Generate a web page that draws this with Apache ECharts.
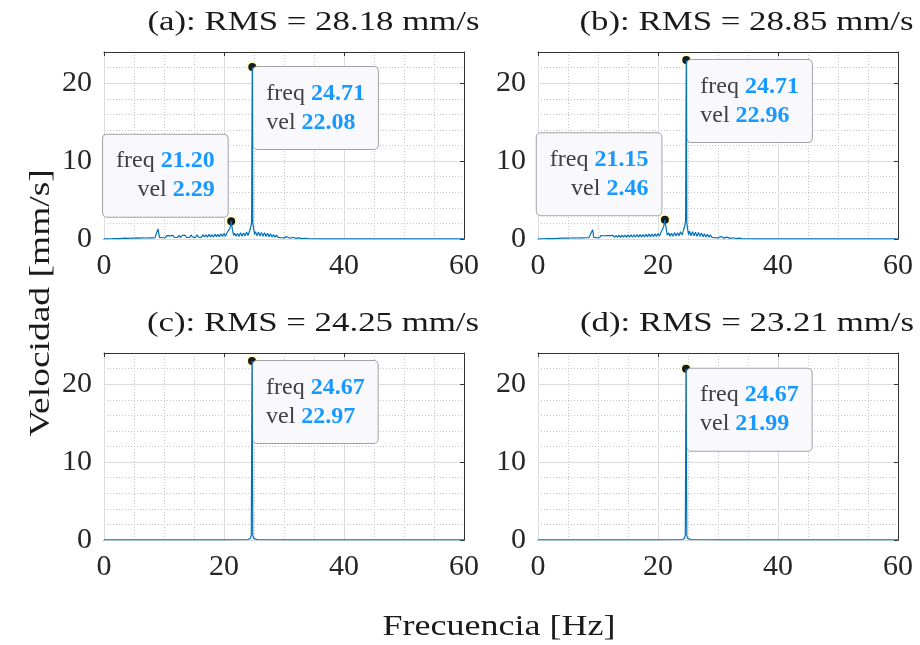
<!DOCTYPE html>
<html>
<head>
<meta charset="utf-8">
<script src="https://cdn.jsdelivr.net/npm/echarts@6/dist/echarts.min.js"></script>
<style>
  html, body { margin: 0; padding: 0; background: #fff; }
  #chart { width: 920px; height: 645px; }
</style>
</head>
<body>
<div id="chart"></div>
<script>
// spectra: [frequency Hz, velocity mm/s]
const specA = [
  [0, 0.02], [0.5, 0.02], [1, 0.03], [1.5, 0.04], [2, 0.06], [2.25, 0.12], [2.5, 0.05], [2.75, 0.15],
  [3, 0.08], [3.25, 0.2], [3.5, 0.1], [3.75, 0.22], [4, 0.09], [4.25, 0.25], [4.5, 0.12], [4.75, 0.28],
  [5, 0.1], [5.25, 0.3], [5.5, 0.14], [5.75, 0.26], [6, 0.12], [6.25, 0.33], [6.5, 0.15], [6.75, 0.3],
  [7, 0.13], [7.25, 0.36], [7.5, 0.16], [7.75, 0.32], [8, 0.14], [8.25, 0.38], [8.5, 0.17], [8.75, 0.4],
  [9, 1.3], [9.25, 0.2], [9.5, 0.42], [9.75, 0.16], [10, 0.38], [10.25, 0.18], [10.5, 0.44], [10.75, 0.2],
  [11, 0.4], [11.25, 0.15], [11.5, 0.46], [11.75, 0.19], [12, 0.42], [12.25, 0.22], [12.5, 0.48], [12.75, 0.18],
  [13, 0.45], [13.25, 0.2], [13.5, 0.5], [13.75, 0.22], [14, 0.47], [14.25, 0.19], [14.5, 0.52], [14.75, 0.24],
  [15, 0.48], [15.25, 0.2], [15.5, 0.55], [15.75, 0.25], [16, 0.5], [16.25, 0.22], [16.5, 0.56], [16.75, 0.26],
  [17, 0.52], [17.25, 0.24], [17.5, 0.6], [17.75, 0.28], [18, 0.55], [18.25, 0.25], [18.5, 0.62], [18.75, 0.3],
  [19, 0.6], [19.25, 0.28], [19.5, 0.68], [19.75, 0.32], [20, 0.72], [20.25, 0.35], [20.5, 0.8], [20.75, 0.6],
  [21, 1.4], [21.2, 2.29], [21.4, 1.2], [21.6, 0.45], [21.8, 0.75], [22, 0.35], [22.25, 0.7], [22.5, 0.32],
  [22.75, 0.8], [23, 0.36], [23.25, 0.78], [23.5, 0.4], [23.75, 0.9], [24, 0.45], [24.25, 1.0], [24.5, 1.6],
  [24.6, 2.2], [24.71, 22.08], [24.8, 2.0], [24.95, 1.3], [25.1, 0.6], [25.25, 0.95], [25.5, 0.4], [25.75, 0.9],
  [26, 0.38], [26.25, 0.85], [26.5, 0.35], [26.75, 0.82], [27, 0.32], [27.25, 0.75], [27.5, 0.3], [27.75, 0.66],
  [28, 0.26], [28.25, 0.58], [28.5, 0.22], [28.75, 0.5], [29, 0.2], [29.25, 0.42], [29.5, 0.16], [29.75, 0.36],
  [30, 0.14], [30.5, 0.3], [31, 0.1], [31.5, 0.22], [32, 0.08], [32.5, 0.15], [33, 0.05], [33.5, 0.1],
  [34, 0.04], [35, 0.03], [36, 0.02], [40, 0.01], [50, 0.01], [60, 0.01]
];
const specB = [
  [0, 0.02], [0.5, 0.02], [1, 0.03], [1.5, 0.04], [2, 0.05], [2.25, 0.1], [2.5, 0.06], [2.75, 0.14],
  [3, 0.07], [3.25, 0.18], [3.5, 0.09], [3.75, 0.2], [4, 0.1], [4.25, 0.24], [4.5, 0.11], [4.75, 0.26],
  [5, 0.12], [5.25, 0.28], [5.5, 0.13], [5.75, 0.3], [6, 0.14], [6.25, 0.31], [6.5, 0.13], [6.75, 0.34],
  [7, 0.15], [7.25, 0.33], [7.5, 0.14], [7.75, 0.36], [8, 0.16], [8.25, 0.37], [8.5, 0.18], [8.75, 0.39],
  [9.1, 1.2], [9.3, 0.22], [9.5, 0.4], [9.75, 0.18], [10, 0.41], [10.25, 0.16], [10.5, 0.43], [10.75, 0.2],
  [11, 0.42], [11.25, 0.17], [11.5, 0.45], [11.75, 0.21], [12, 0.44], [12.25, 0.2], [12.5, 0.47], [12.75, 0.19],
  [13, 0.48], [13.25, 0.22], [13.5, 0.49], [13.75, 0.21], [14, 0.5], [14.25, 0.23], [14.5, 0.5], [14.75, 0.22],
  [15, 0.53], [15.25, 0.24], [15.5, 0.52], [15.75, 0.23], [16, 0.55], [16.25, 0.25], [16.5, 0.57], [16.75, 0.24],
  [17, 0.56], [17.25, 0.27], [17.5, 0.58], [17.75, 0.26], [18, 0.6], [18.25, 0.28], [18.5, 0.62], [18.75, 0.3],
  [19, 0.64], [19.25, 0.31], [19.5, 0.66], [19.75, 0.34], [20, 0.7], [20.25, 0.38], [20.5, 0.85], [20.75, 0.7],
  [20.95, 1.6], [21.15, 2.46], [21.35, 1.4], [21.55, 0.5], [21.8, 0.78], [22, 0.36], [22.25, 0.74], [22.5, 0.34],
  [22.75, 0.82], [23, 0.38], [23.25, 0.8], [23.5, 0.42], [23.75, 0.92], [24, 0.5], [24.25, 1.1], [24.5, 1.8],
  [24.6, 2.4], [24.71, 22.96], [24.8, 2.1], [24.95, 1.2], [25.1, 0.55], [25.25, 1.0], [25.5, 0.42], [25.75, 0.92],
  [26, 0.4], [26.25, 0.88], [26.5, 0.36], [26.75, 0.84], [27, 0.34], [27.25, 0.76], [27.5, 0.3], [27.75, 0.68],
  [28, 0.27], [28.25, 0.6], [28.5, 0.24], [28.75, 0.52], [29, 0.2], [29.25, 0.45], [29.5, 0.17], [29.75, 0.38],
  [30, 0.15], [30.5, 0.32], [31, 0.11], [31.5, 0.24], [32, 0.08], [32.5, 0.16], [33, 0.06], [33.5, 0.11],
  [34, 0.04], [35, 0.03], [36, 0.02], [40, 0.01], [50, 0.01], [60, 0.01]
];
const specC = [
  [0, 0.01], [10, 0.01], [20, 0.02], [23, 0.03], [24, 0.06], [24.4, 0.2], [24.55, 0.6], [24.67, 22.97],
  [24.8, 0.6], [24.95, 0.2], [25.5, 0.06], [27, 0.03], [30, 0.02], [40, 0.01], [60, 0.01]
];
const specD = [
  [0, 0.01], [10, 0.01], [20, 0.02], [23, 0.03], [24, 0.06], [24.4, 0.2], [24.55, 0.6], [24.67, 21.99],
  [24.8, 0.6], [24.95, 0.2], [25.5, 0.06], [27, 0.03], [30, 0.02], [40, 0.01], [60, 0.01]
];

// data tips [freq, vel]
const tipsA = [[21.20, 2.29], [24.71, 22.08]];
const tipsB = [[21.15, 2.46], [24.71, 22.96]];
const tipsC = [[24.67, 22.97]];
const tipsD = [[24.67, 21.99]];

const letters = ['a', 'b', 'c', 'd'];
const rmsValues = [28.18, 28.85, 24.25, 23.21];
const xTicks = [0, 20, 40, 60];
const yTicks = [0, 10, 20];
const yMax = 24;

const FONT = '"Liberation Serif", "Times New Roman", serif';
const INK = '#262626';
const BOX = '#333';

const panels = [
  { spec: specA, tips: tipsA, left: 104, top: 52 },
  { spec: specB, tips: tipsB, left: 538, top: 52 },
  { spec: specC, tips: tipsC, left: 104, top: 353 },
  { spec: specD, tips: tipsD, left: 538, top: 353 }
];

const xMajor = xTicks[1] - xTicks[0];
const yMajor = yTicks[1] - yTicks[0];
const xMax = xTicks[xTicks.length - 1];

const grids = [], xAxes = [], yAxes = [], series = [];

panels.forEach((p, i) => {
  grids.push({ left: p.left, top: p.top, width: 360, height: 187 });

  // minor grid + labels
  xAxes.push({
    gridIndex: i, type: 'value', min: 0, max: xMax, interval: 5, position: 'bottom',
    axisLine: { show: true, onZero: false, lineStyle: { color: BOX, width: 1 } },
    axisTick: { show: false },
    axisLabel: {
      formatter: v => (v % xMajor === 0 ? String(v) : ''),
      margin: 12, fontFamily: FONT, fontSize: 30, color: INK
    },
    splitLine: { show: true, lineStyle: { color: '#c4c4c4', type: [1, 2], width: 1 } }
  });
  // major grid + top box edge
  xAxes.push({
    gridIndex: i, type: 'value', min: 0, max: xMax, interval: xMajor, position: 'top',
    axisLine: { show: true, onZero: false, lineStyle: { color: BOX, width: 1 } },
    axisTick: { show: true, inside: true, length: 4, lineStyle: { color: BOX } },
    axisLabel: { show: false },
    splitLine: { show: true, lineStyle: { color: '#dcdcdc', width: 1 } },
    z: 3
  });
  // bottom major ticks
  xAxes.push({
    gridIndex: i, type: 'value', min: 0, max: xMax, interval: xMajor, position: 'bottom',
    axisLine: { show: false, onZero: false },
    axisTick: { show: true, inside: true, length: 4, lineStyle: { color: BOX } },
    axisLabel: { show: false },
    splitLine: { show: false }
  });

  yAxes.push({
    gridIndex: i, type: 'value', min: 0, max: yMax, interval: 2, position: 'left',
    axisLine: { show: true, onZero: false, lineStyle: { color: BOX, width: 1 } },
    axisTick: { show: false },
    axisLabel: {
      formatter: v => (v % yMajor === 0 ? String(v) : ''),
      margin: 12, fontFamily: FONT, fontSize: 30, color: INK
    },
    splitLine: { show: true, lineStyle: { color: '#c4c4c4', type: [1, 2], width: 1 } }
  });
  yAxes.push({
    gridIndex: i, type: 'value', min: 0, max: yMax, interval: yMajor, position: 'right',
    axisLine: { show: true, onZero: false, lineStyle: { color: BOX, width: 1 } },
    axisTick: { show: true, inside: true, length: 4, lineStyle: { color: BOX } },
    axisLabel: { show: false },
    splitLine: { show: true, lineStyle: { color: '#dcdcdc', width: 1 } },
    z: 3
  });
  yAxes.push({
    gridIndex: i, type: 'value', min: 0, max: yMax, interval: yMajor, position: 'left',
    axisLine: { show: false, onZero: false },
    axisTick: { show: true, inside: true, length: 4, lineStyle: { color: BOX } },
    axisLabel: { show: false },
    splitLine: { show: false }
  });

  series.push({
    type: 'line',
    xAxisIndex: i * 3,
    yAxisIndex: i * 3,
    data: p.spec,
    showSymbol: false,
    symbol: 'none',
    lineStyle: { color: '#0072bd', width: 1.2 },
    itemStyle: { color: '#0072bd' },
    z: 5,
    markPoint: {
      symbol: 'circle',
      symbolSize: 10,
      itemStyle: { color: '#1a1a1a', borderColor: '#ffffc8', borderWidth: 2 },
      label: {
        show: true,
        backgroundColor: '#f8f8fd',
        borderColor: '#a3a3a3',
        borderWidth: 1,
        borderRadius: 4,
        padding: [12, 13, 12, 13],
        rich: {
          n: { fontFamily: FONT, fontSize: 24, color: '#404040', lineHeight: 29 },
          v: { fontFamily: FONT, fontSize: 24, fontWeight: 'bold', color: '#1799ff', lineHeight: 29 }
        }
      },
      data: p.tips.map(t => {
        // small peaks get their tip up-left, the main peak down-right
        const upLeft = t[1] < 10;
        return {
          coord: [t[0], t[1]],
          value: t[1],
          label: {
            position: upLeft ? [2.5, 1.5] : [7, 6],
            align: upLeft ? 'right' : 'left',
            verticalAlign: upLeft ? 'bottom' : 'top',
            formatter: '{n|freq }{v|' + t[0].toFixed(2) + '}\n{n|vel }{v|' + t[1].toFixed(2) + '}'
          }
        };
      })
    }
  });
});

const titleX = [313.5, 746.5, 313, 747];
const titleY = [23, 23, 324, 324];

const graphic = letters.map((l, i) => ({
  type: 'text',
  x: titleX[i],
  y: titleY[i],
  scaleX: 1.29,
  silent: true,
  style: {
    x: 0, y: 0,
    text: '(' + l + '): RMS = ' + rmsValues[i].toFixed(2) + ' mm/s',
    font: '27px ' + FONT,
    fill: '#1a1a1a',
    align: 'center', verticalAlign: 'middle',
    textAlign: 'center', textVerticalAlign: 'middle'
  }
}));

graphic.push({
  type: 'text', x: 499, y: 627, scaleX: 1.2, silent: true,
  style: {
    x: 0, y: 0, text: 'Frecuencia [Hz]', font: '30px ' + FONT, fill: '#1a1a1a',
    align: 'center', verticalAlign: 'middle', textAlign: 'center', textVerticalAlign: 'middle'
  }
});
graphic.push({
  type: 'text', x: 41, y: 303, rotation: Math.PI / 2, scaleX: 1.25, silent: true,
  style: {
    x: 0, y: 0, text: 'Velocidad [mm/s]', font: '30px ' + FONT, fill: '#1a1a1a',
    align: 'center', verticalAlign: 'middle', textAlign: 'center', textVerticalAlign: 'middle'
  }
});

const chart = echarts.init(document.getElementById('chart'));
chart.setOption({
  animation: false,
  backgroundColor: '#fff',
  grid: grids,
  xAxis: xAxes,
  yAxis: yAxes,
  series: series,
  graphic: graphic
});
</script>
</body>
</html>
